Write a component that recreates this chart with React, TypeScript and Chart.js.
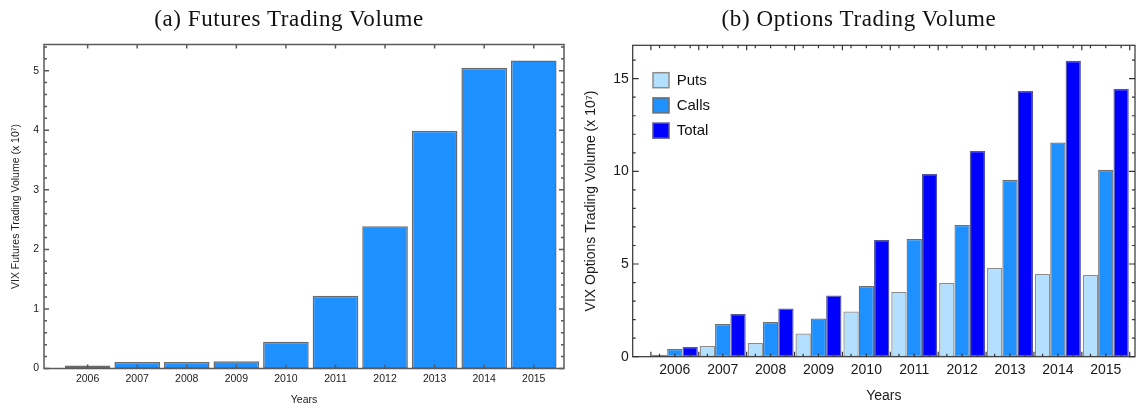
import React, { useEffect, useRef } from "react";
import { Chart, registerables } from "chart.js";

Chart.register(...registerables);

// ---------- data ----------
const years = [2006, 2007, 2008, 2009, 2010, 2011, 2012, 2013, 2014, 2015];
// VIX futures volume (x 10^7)
const futuresVolume = [0.05, 0.11, 0.11, 0.12, 0.45, 1.22, 2.39, 3.99, 5.05, 5.17];
// VIX options volume (x 10^7)
const putsVolume = [0.1, 0.58, 0.74, 1.25, 2.44, 3.49, 3.98, 4.79, 4.46, 4.41];
const callsVolume = [0.42, 1.76, 1.87, 2.06, 3.82, 6.35, 7.11, 9.54, 11.56, 10.08];
const totalVolume = [0.52, 2.3, 2.6, 3.3, 6.3, 9.86, 11.1, 14.34, 15.96, 14.45];
const seriesLabels = ["Puts", "Calls", "Total"];
const futuresYTicks = [0, 1, 2, 3, 4, 5];
const optionsYTicks = [0, 5, 10, 15];
const titleA = "(a) Futures Trading Volume";
const titleB = "(b) Options Trading Volume";
const futuresYTitle = "VIX Futures Trading Volume (x 10\u2077)";
const optionsYTitle = "VIX Options Trading Volume (x 10\u2077)";
const xTitle = "Years";

const FONT = "'Liberation Sans', Arial, Helvetica, sans-serif";
const X_MIN = 2005.12;
const X_MAX = 2015.61;

type TickFn = (chart: any) => { px: number; len: number }[];

function framePlugin(cfg: {
  color: string;
  width: number;
  yMajor: number[];
  yMinorStep: number;
  yMajorLen: number;
  yMinorLen: number;
  xTicks: TickFn;
}) {
  return {
    id: "frameTicks",
    afterDraw(chart: any) {
      const { ctx, chartArea: a, scales } = chart;
      const ys = scales.y;
      ctx.save();
      ctx.strokeStyle = cfg.color;
      ctx.lineWidth = cfg.width;
      ctx.strokeRect(a.left, a.top, a.right - a.left, a.bottom - a.top);
      ctx.beginPath();
      const n = Math.floor(ys.max / cfg.yMinorStep + 1e-6);
      for (let k = 0; k <= n; k++) {
        const v = k * cfg.yMinorStep;
        const major = cfg.yMajor.some((m) => Math.abs(m - v) < 1e-6);
        const len = major ? cfg.yMajorLen : cfg.yMinorLen;
        const py = ys.getPixelForValue(v);
        ctx.moveTo(a.left, py);
        ctx.lineTo(a.left + len, py);
        ctx.moveTo(a.right, py);
        ctx.lineTo(a.right - len, py);
      }
      for (const t of cfg.xTicks(chart)) {
        ctx.moveTo(t.px, a.bottom);
        ctx.lineTo(t.px, a.bottom - t.len);
        ctx.moveTo(t.px, a.top);
        ctx.lineTo(t.px, a.top + t.len);
      }
      ctx.stroke();
      ctx.restore();
    },
  };
}

const legendPlugin = {
  id: "insetLegend",
  afterDraw(chart: any) {
    const { ctx, chartArea: a } = chart;
    ctx.save();
    chart.data.datasets.forEach((ds: any, i: number) => {
      const x = a.left + 20.3;
      const y = a.top + 27.4 + i * 25.2;
      ctx.fillStyle = ds.backgroundColor;
      ctx.fillRect(x, y, 16, 15);
      ctx.strokeStyle = ds.borderColor;
      ctx.lineWidth = 1.5;
      ctx.strokeRect(x, y, 16, 15);
      ctx.fillStyle = "#111";
      ctx.font = `15px ${FONT}`;
      ctx.textBaseline = "middle";
      ctx.textAlign = "left";
      ctx.fillText(ds.label, x + 23.7, y + 8);
    });
    ctx.restore();
  },
};

function makeScales(opts: {
  yMax: number;
  yTicks: number[];
  yWidth: number;
  xHeight: number;
  tickSize: number;
  xTickPad: number;
  yTickPad: number;
  yTitle: string;
  yTitlePad: number;
  xTitlePad: number;
}) {
  return {
    x: {
      type: "linear" as const,
      offset: false,
      min: X_MIN,
      max: X_MAX,
      grid: { display: false, drawTicks: false, offset: false },
      border: { display: false },
      afterBuildTicks: (s: any) => {
        s.ticks = years.map((v) => ({ value: v }));
      },
      afterFit: (s: any) => {
        s.height = opts.xHeight;
      },
      ticks: {
        autoSkip: false,
        maxRotation: 0,
        padding: opts.xTickPad,
        color: "#1a1a1a",
        font: { family: FONT, size: opts.tickSize },
        callback: (v: any) => String(v),
      },
      title: {
        display: true,
        text: xTitle,
        color: "#1a1a1a",
        font: { family: FONT, size: opts.tickSize, lineHeight: 1 },
        padding: { top: 0, bottom: opts.xTitlePad },
      },
    },
    y: {
      type: "linear" as const,
      min: 0,
      max: opts.yMax,
      grid: { display: false, drawTicks: false },
      border: { display: false },
      afterBuildTicks: (s: any) => {
        s.ticks = opts.yTicks.map((v) => ({ value: v }));
      },
      afterFit: (s: any) => {
        s.width = opts.yWidth;
      },
      ticks: {
        padding: opts.yTickPad,
        color: "#1a1a1a",
        font: { family: FONT, size: opts.tickSize },
        callback: (v: any) => String(v),
      },
      title: {
        display: true,
        text: opts.yTitle,
        color: "#1a1a1a",
        font: { family: FONT, size: opts.tickSize, lineHeight: 1 },
        padding: { top: opts.yTitlePad, bottom: 0 },
      },
    },
  };
}

function FuturesChart() {
  const ref = useRef<HTMLCanvasElement | null>(null);
  useEffect(() => {
    if (!ref.current) return;
    const chart = new Chart(ref.current, {
      type: "bar",
      data: {
        datasets: [
          {
            label: "Futures",
            data: years.map((x, i) => ({ x, y: futuresVolume[i] })),
            backgroundColor: "#1E90FF",
            borderColor: "#6a6a6a",
            borderWidth: 1.5,
            borderSkipped: false,
            categoryPercentage: 0.92,
            barPercentage: 1,
          },
        ],
      },
      options: {
        responsive: false,
        animation: false,
        events: [],
        layout: { padding: { left: 0, right: 6, top: 44.5, bottom: 0 } },
        plugins: { legend: { display: false }, tooltip: { enabled: false } },
        scales: makeScales({
          yMax: 5.44,
          yTicks: futuresYTicks,
          yWidth: 44,
          xHeight: 35.5,
          tickSize: 10.5,
          xTickPad: 4,
          yTickPad: 5,
          yTitle: futuresYTitle,
          yTitlePad: 11,
          xTitlePad: -1.2,
        }) as any,
      },
      plugins: [
        framePlugin({
          color: "#5a5a5a",
          width: 1.5,
          yMajor: futuresYTicks,
          yMinorStep: 0.2,
          yMajorLen: 5,
          yMinorLen: 3,
          xTicks: (c: any) =>
            years.map((v) => ({ px: c.scales.x.getPixelForValue(v), len: 4 })),
        }),
      ],
    });
    return () => chart.destroy();
  }, []);
  return (
    <canvas
      ref={ref}
      width={570}
      height={404}
      style={{ position: "absolute", left: 0, top: 0, width: 570, height: 404 }}
    />
  );
}

function OptionsChart() {
  const ref = useRef<HTMLCanvasElement | null>(null);
  useEffect(() => {
    if (!ref.current) return;
    const series = [putsVolume, callsVolume, totalVolume];
    const fills = ["#B3E0FF", "#1E90FF", "#0000FF"];
    const borders = ["#8c8c8c", "#6e6e6e", "#55559a"];
    const chart = new Chart(ref.current, {
      type: "bar",
      data: {
        datasets: series.map((s, k) => ({
          label: seriesLabels[k],
          data: years.map((x, i) => ({ x, y: s[i] })),
          backgroundColor: fills[k],
          borderColor: borders[k],
          borderWidth: 1.3,
          borderSkipped: false,
          categoryPercentage: 0.96,
          barPercentage: 1,
        })),
      },
      options: {
        responsive: false,
        animation: false,
        events: [],
        layout: { padding: { left: 0, right: 1, top: 45.3, bottom: 0 } },
        plugins: { legend: { display: false }, tooltip: { enabled: false } },
        scales: makeScales({
          yMax: 16.8,
          yTicks: optionsYTicks,
          yWidth: 62.7,
          xHeight: 47.3,
          tickSize: 14,
          xTickPad: 5.5,
          yTickPad: 4,
          yTitle: optionsYTitle,
          yTitlePad: 14.5,
          xTitlePad: 1.3,
        }) as any,
      },
      plugins: [
        framePlugin({
          color: "#333333",
          width: 1.2,
          yMajor: optionsYTicks,
          yMinorStep: 1,
          yMajorLen: 6,
          yMinorLen: 3,
          xTicks: (c: any) => {
            const xs = c.scales.x;
            const out: { px: number; len: number }[] = [];
            years.forEach((v) => out.push({ px: xs.getPixelForValue(v + 0.5), len: 5 }));
            out.push({ px: xs.getPixelForValue(years[0] - 0.5), len: 5 });
            c.data.datasets.forEach((_d: any, i: number) => {
              c.getDatasetMeta(i).data.forEach((el: any) => out.push({ px: el.x, len: 3 }));
            });
            return out.filter((t) => t.px >= c.chartArea.left && t.px <= c.chartArea.right);
          },
        }),
        legendPlugin,
      ],
    });
    return () => chart.destroy();
  }, []);
  return (
    <canvas
      ref={ref}
      width={566}
      height={404}
      style={{ position: "absolute", left: 570, top: 0, width: 566, height: 404 }}
    />
  );
}

const titleStyle: React.CSSProperties = {
  position: "absolute",
  top: 5,
  width: 400,
  textAlign: "center",
  fontFamily: "'Liberation Serif', 'DejaVu Serif', serif",
  fontSize: 23,
  letterSpacing: "0.6px",
  lineHeight: "28px",
  color: "#111",
  whiteSpace: "nowrap",
};

export default function App() {
  return (
    <div
      style={{
        position: "absolute",
        left: 0,
        top: 0,
        width: 1136,
        height: 404,
        background: "#fff",
        overflow: "hidden",
      }}
    >
      <FuturesChart />
      <OptionsChart />
      <div style={{ ...titleStyle, left: 289 - 200 }}>{titleA}</div>
      <div style={{ ...titleStyle, left: 859 - 200 }}>{titleB}</div>
    </div>
  );
}
